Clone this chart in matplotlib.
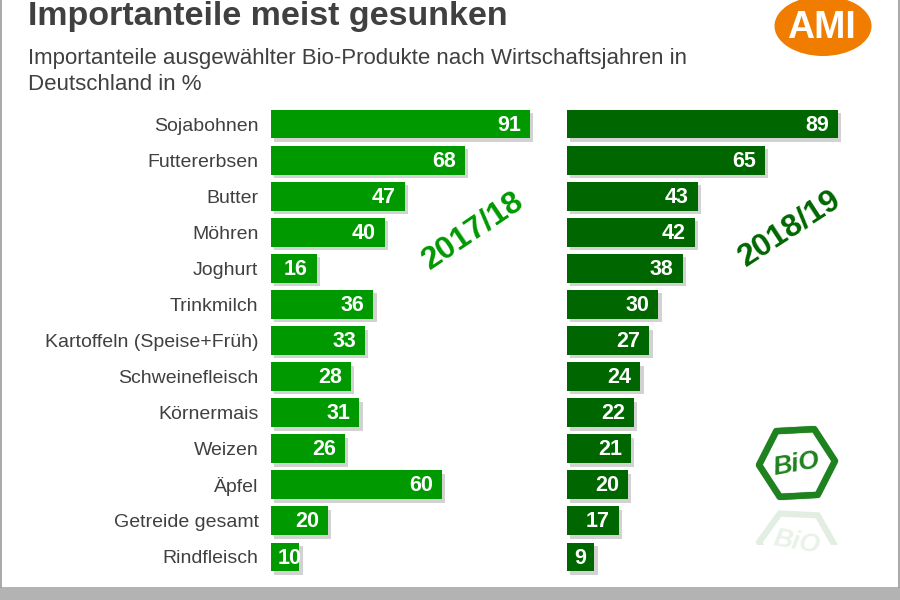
import numpy as np
import matplotlib
matplotlib.use("Agg")
import matplotlib.pyplot as plt
from matplotlib import font_manager
from matplotlib.patches import Rectangle, Ellipse, Polygon
import matplotlib.patheffects as pe

# Importanteile ausgewaehlter Bio-Produkte, Wirtschaftsjahre 2017/18 und 2018/19
products = ["Sojabohnen", "Futtererbsen", "Butter", "Möhren", "Joghurt", "Trinkmilch",
            "Kartoffeln (Speise+Früh)", "Schweinefleisch", "Körnermais", "Weizen",
            "Äpfel", "Getreide gesamt", "Rindfleisch"]
share_1718 = [91, 68, 47, 40, 16, 36, 33, 28, 31, 26, 60, 20, 10]
share_1819 = [89, 65, 43, 42, 38, 30, 27, 24, 22, 21, 20, 17, 9]
years = ["2017/18", "2018/19"]

installed = {f.name for f in font_manager.fontManager.ttflist}
base_font = "Liberation Sans" if "Liberation Sans" in installed else "DejaVu Sans"
plt.rcParams["font.family"] = [base_font, "DejaVu Sans"]

GREEN = "#009900"
DARK_GREEN = "#006600"
BIO_GREEN = "#1e821e"
TEXT = "#404040"

W, H = 900, 600
fig = plt.figure(figsize=(9, 6), dpi=100)
fig.patch.set_facecolor("white")


def px_axes(left, top, width, height):
  return fig.add_axes([left / W, 1 - (top + height) / H, width / W, height / H])


def draw_bars(ax, values, color, show_labels):
  y = np.arange(len(values))
  bars = ax.barh(y, values, height=0.8, color=color, zorder=2)
  for b in bars:
    b.set_path_effects([pe.SimplePatchShadow(offset=(2.5, -2.5), shadow_rgbFace="#909090", alpha=0.4),
                        pe.Normal()])
  for i, v in enumerate(values):
    if v < 12:
      ax.annotate(str(v), xy=(0, i), xytext=(5, -0.8), textcoords="offset points",
                  ha="left", va="center", color="white", fontsize=15.5,
                  fontweight="bold", zorder=3)
    else:
      ax.annotate(str(v), xy=(v, i), xytext=(-6.5, -0.8), textcoords="offset points",
                  ha="right", va="center", color="white", fontsize=15.5,
                  fontweight="bold", zorder=3)
  ax.set_xlim(0, 100)
  ax.set_ylim(len(values) - 0.5, -0.5)
  for s in ax.spines.values():
    s.set_visible(False)
  ax.set_xticks([])
  if show_labels:
    ax.set_yticks(y, products)
    ax.tick_params(axis="y", length=0, pad=9, labelsize=14, labelcolor=TEXT)
  else:
    ax.set_yticks([])
  ax.patch.set_alpha(0)


ax_left = px_axes(271, 106, 284.6, 469)
ax_right = px_axes(567, 106, 304.5, 469)
draw_bars(ax_left, share_1718, GREEN, True)
draw_bars(ax_right, share_1819, DARK_GREEN, False)

ax_left.text(71, 2.95, years[0], rotation=34, ha="center", va="center",
             fontsize=23, fontweight="bold", color=GREEN)
ax_right.text(73, 2.9, years[1], rotation=33, ha="center", va="center",
              fontsize=23, fontweight="bold", color=DARK_GREEN)

# decorations in pixel space
deco = fig.add_axes([0, 0, 1, 1], zorder=-1)
deco.set_xlim(0, W)
deco.set_ylim(H, 0)
deco.axis("off")
deco.add_patch(Rectangle((0, 587), W, 13, color="#b3b3b3", lw=0))
deco.plot([1, 1], [0, 587], color="#9a9a9a", lw=1.2)
deco.plot([898.5, 898.5], [0, 587], color="#9a9a9a", lw=1.2)

top = fig.add_axes([0, 0, 1, 1], zorder=5)
top.set_xlim(0, W)
top.set_ylim(H, 0)
top.axis("off")

# AMI logo
top.add_patch(Ellipse((823, 26), 97, 60, color="#f07d00", lw=0))
top.text(821, 28.5, "AMI", ha="center", va="center", color="white",
         fontsize=27, fontweight="bold")

# Bio hexagon
cx, cy, r = 797, 463, 38
ang = np.deg2rad(np.arange(6) * 60 + 3)
hexpts = np.column_stack([cx + r * np.cos(ang), cy - r * np.sin(ang)])
top.add_patch(Polygon(hexpts, closed=True, fill=False, ec=BIO_GREEN, lw=4.5, joinstyle="round",
                      path_effects=[pe.withStroke(linewidth=5.5, foreground="#c8d8c8", alpha=0.6),
                                    pe.Normal()]))
top.text(cx - 1, cy + 1, "BiO", ha="center", va="center", rotation=10, color=BIO_GREEN,
         fontsize=19, fontweight="heavy", style="italic")
# reflection
ry = 506
refl = np.column_stack([cx + r * np.cos(ang), ry + 38 + r * np.sin(ang) * 0.9])
clip = Rectangle((740, 505), 110, 40, transform=top.transData, visible=False)
top.add_patch(clip)
rp = Polygon(refl, closed=True, fill=False, ec=BIO_GREEN, lw=4.5, alpha=0.13)
top.add_patch(rp)
rp.set_clip_path(clip)
rt = top.text(cx, ry + 36, "BiO", ha="center", va="center", rotation=-10, color=BIO_GREEN,
              fontsize=19, fontweight="bold", style="italic", alpha=0.1)
rt.set_clip_path(clip)

fig.text(28 / W, 1 - 25 / H, "Importanteile meist gesunken", ha="left", va="baseline",
         fontsize=24.5, fontweight="bold", color=TEXT)
fig.text(28 / W, 1 - 64 / H, "Importanteile ausgewählter Bio-Produkte nach Wirtschaftsjahren in",
         ha="left", va="baseline", fontsize=16, color=TEXT)
fig.text(28 / W, 1 - 90 / H, "Deutschland in %", ha="left", va="baseline", fontsize=16, color=TEXT)

fig.savefig("out.png", dpi=100)
